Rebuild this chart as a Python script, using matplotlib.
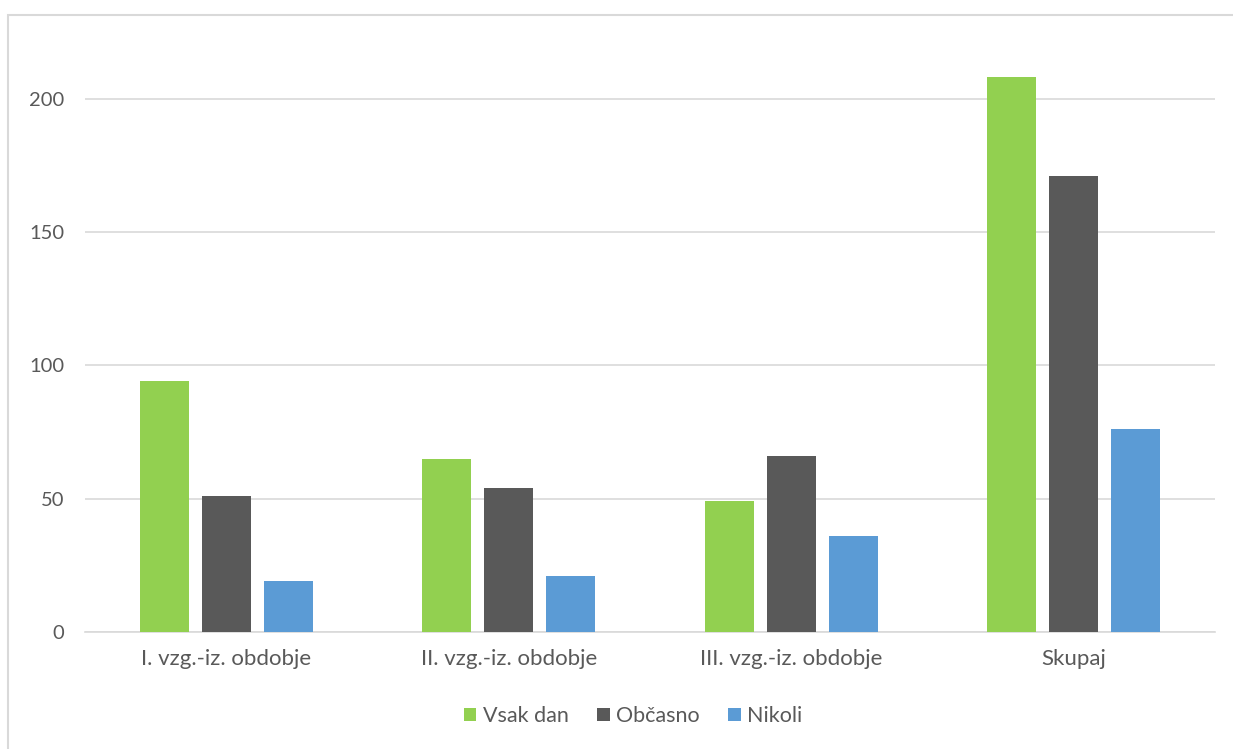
import matplotlib.pyplot as plt
import numpy as np
from matplotlib.patches import Rectangle

categories = ['I. vzg.-iz. obdobje', 'II. vzg.-iz. obdobje', 'III. vzg.-iz. obdobje', 'Skupaj']
vsak_dan = [94, 65, 49, 208]
obcasno = [51, 54, 66, 171]
nikoli = [19, 21, 36, 76]

series = [('Vsak dan', vsak_dan, '#92D050'),
          ('Občasno', obcasno, '#595959'),
          ('Nikoli', nikoli, '#5B9BD5')]

plt.rcParams['font.family'] = ['Lato', 'DejaVu Sans']

fig = plt.figure(figsize=(12.33, 7.49), dpi=100)
ax = fig.add_axes([85 / 1233, 117 / 749, 1130 / 1233, 592 / 749])

# outer chart frame
fig.patches.append(Rectangle((8 / 1233, -0.1), 1.2, (749 - 15) / 749 + 0.1,
                             transform=fig.transFigure, fill=False,
                             edgecolor='#D9D9D9', linewidth=1.5))

x = np.arange(len(categories))
width = 0.173
step = 0.22
for i, (name, vals, color) in enumerate(series):
    ax.bar(x + (i - 1) * step, vals, width, color=color, label=name, zorder=3)

ax.set_xlim(-0.5, len(categories) - 0.5)
ax.set_ylim(0, 222)
ax.set_yticks([0, 50, 100, 150, 200])
ax.yaxis.grid(True, color='#D9D9D9', linewidth=1.2, zorder=0)
ax.set_xticks(x)
ax.set_xticklabels(categories)
ax.tick_params(axis='both', length=0, labelcolor='#595959')
ax.tick_params(axis='y', labelsize=14.5, pad=15)
ax.tick_params(axis='x', labelsize=16, pad=12)
for s in ['top', 'right', 'left']:
    ax.spines[s].set_visible(False)
ax.spines['bottom'].set_color('#D9D9D9')
ax.spines['bottom'].set_linewidth(1.2)

leg = fig.legend(loc='center', bbox_to_anchor=(633 / 1233, 1 - 716 / 749), ncol=3,
                 frameon=False, fontsize=15.5, handlelength=0.6, handleheight=0.6,
                 handletextpad=0.3, columnspacing=1.3)
for t in leg.get_texts():
    t.set_color('#595959')

fig.savefig('out.png', dpi=100)
